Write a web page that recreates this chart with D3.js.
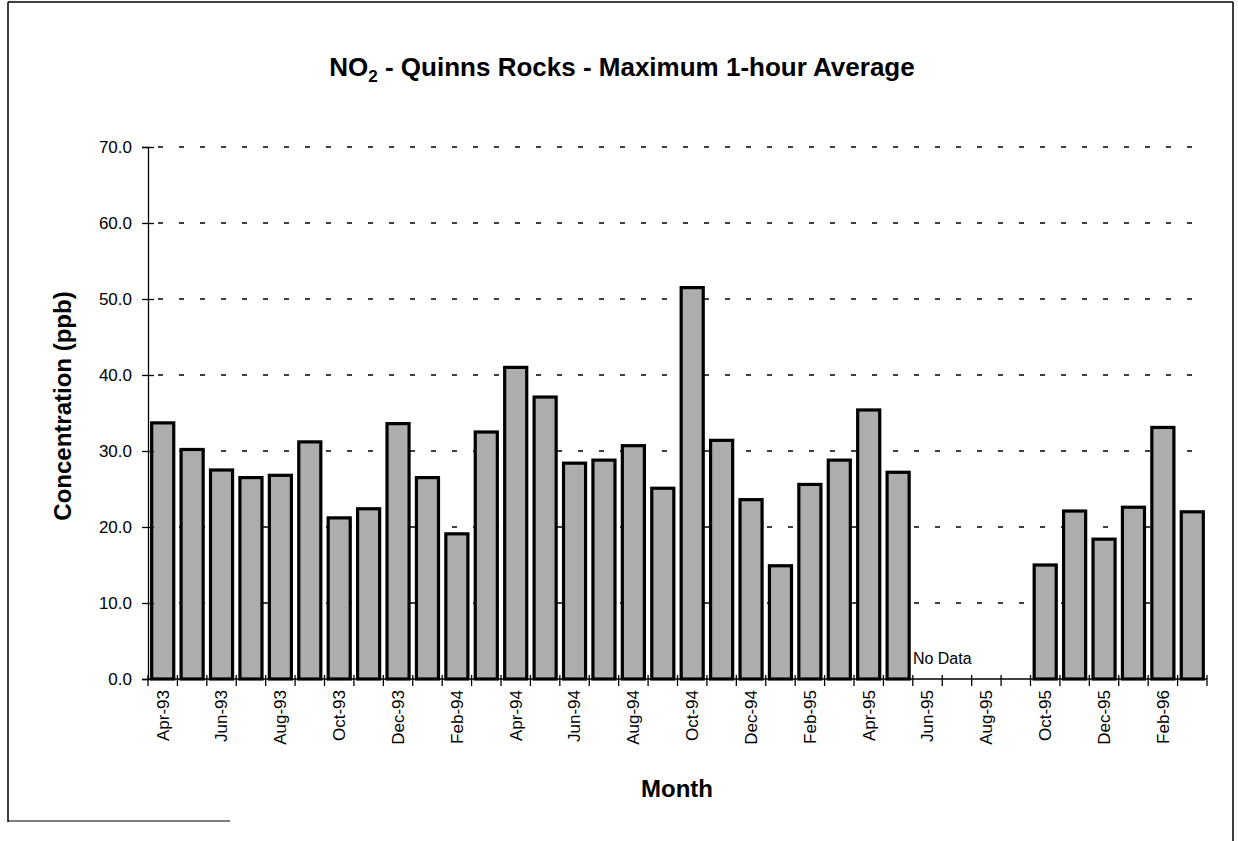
<!DOCTYPE html>
<html>
<head>
<meta charset="utf-8">
<script src="https://cdn.jsdelivr.net/npm/d3@7"></script>
<style>
  html, body { margin: 0; padding: 0; background: #fff; }
  svg { display: block; font-family: "Liberation Sans", Arial, sans-serif; }
</style>
</head>
<body>
<svg id="chart" width="1238" height="841"></svg>
<script>
const months = ["Apr-93","May-93","Jun-93","Jul-93","Aug-93","Sep-93","Oct-93","Nov-93","Dec-93","Jan-94","Feb-94","Mar-94",
  "Apr-94","May-94","Jun-94","Jul-94","Aug-94","Sep-94","Oct-94","Nov-94","Dec-94","Jan-95","Feb-95","Mar-95",
  "Apr-95","May-95","Jun-95","Jul-95","Aug-95","Sep-95","Oct-95","Nov-95","Dec-95","Jan-96","Feb-96","Mar-96"];
const no2Max = [33.7, 30.2, 27.5, 26.5, 26.8, 31.2, 21.2, 22.4, 33.6, 26.5, 19.1, 32.5,
  41.0, 37.1, 28.4, 28.8, 30.7, 25.1, 51.5, 31.4, 23.6, 14.9, 25.6, 28.8,
  35.4, 27.2, null, null, null, null, 15.0, 22.1, 18.4, 22.6, 33.1, 22.0];
const yTicks = [0, 10, 20, 30, 40, 50, 60, 70];
const labelledMonths = months.filter((d, i) => i % 2 === 0);
const noDataLabel = "No Data";
const noDataAt = "Jul-95";

const svg = d3.select("#chart");
const pL = 148, pR = 1207, pT = 147, pB = 679;

// outer frame
svg.append("line").attr("x1", 8).attr("x2", 8).attr("y1", 2).attr("y2", 822).attr("stroke", "#000").attr("stroke-width", 1.5);
svg.append("line").attr("x1", 8).attr("x2", 1233).attr("y1", 2).attr("y2", 2).attr("stroke", "#000").attr("stroke-width", 1.5);
svg.append("line").attr("x1", 1233).attr("x2", 1233).attr("y1", 2).attr("y2", 841).attr("stroke", "#000").attr("stroke-width", 1.5);
svg.append("line").attr("x1", 8).attr("x2", 230).attr("y1", 821).attr("y2", 821).attr("stroke", "#000").attr("stroke-width", 1.2);

const x = d3.scaleBand().domain(months).range([pL, pR]).paddingInner(0.25).paddingOuter(0.125);
const y = d3.scaleLinear().domain([0, 70]).range([pB, pT]);

// gridlines
svg.append("g").selectAll("line").data(yTicks.filter(t => t > 0)).join("line")
  .attr("x1", pL).attr("x2", pR)
  .attr("y1", d => y(d)).attr("y2", d => y(d))
  .attr("stroke", "#000").attr("stroke-width", 1.3)
  .attr("stroke-dasharray", "5,16").attr("stroke-dashoffset", -10);

// bars
const data = months.map((m, i) => ({m, v: no2Max[i]})).filter(d => d.v != null);
svg.append("g").selectAll("rect").data(data).join("rect")
  .attr("x", d => x(d.m))
  .attr("width", x.bandwidth())
  .attr("y", d => y(d.v))
  .attr("height", d => y(0) - y(d.v))
  .attr("fill", "#adadad")
  .attr("stroke", "#000")
  .attr("stroke-width", 3.2);

// y axis
const yAxis = d3.axisLeft(y).tickValues(yTicks).tickFormat(d3.format(".1f")).tickSize(6).tickPadding(10);
const gy = svg.append("g").attr("transform", `translate(${pL},0)`).call(yAxis);
gy.select(".domain").attr("stroke", "#000").attr("stroke-width", 1.3);
gy.selectAll(".tick line").attr("x1", -6).attr("x2", 6).attr("stroke-width", 1.3);
gy.selectAll(".tick text").attr("font-size", 17).attr("fill", "#000").attr("font-family", "Liberation Sans, Arial, sans-serif");

// x axis line and boundary ticks
const step = x.step();
svg.append("line").attr("x1", pL).attr("x2", pR).attr("y1", pB).attr("y2", pB).attr("stroke", "#000").attr("stroke-width", 1.5);
const boundaries = d3.range(months.length + 1).map(i => pL + i * step);
svg.append("g").selectAll("line").data(boundaries).join("line")
  .attr("x1", d => d).attr("x2", d => d)
  .attr("y1", pB - 4).attr("y2", pB + 7)
  .attr("stroke", "#000").attr("stroke-width", 1.3);

// x tick labels (every second month)
const xAxis = d3.axisBottom(x).tickValues(labelledMonths).tickSize(0).tickPadding(0);
const gx = svg.append("g").attr("transform", `translate(0,${pB})`).call(xAxis);
gx.select(".domain").remove();
gx.selectAll(".tick text")
  .attr("font-size", 17).attr("fill", "#000").attr("font-family", "Liberation Sans, Arial, sans-serif")
  .attr("transform", "rotate(-90)")
  .attr("text-anchor", "end")
  .attr("x", -11).attr("y", 0).attr("dy", "0.35em");

// no data label (centred on the Jun-95 / Jul-95 boundary)
svg.append("text").attr("x", x(noDataAt) - (step - x.bandwidth()) / 2).attr("y", 664)
  .attr("text-anchor", "middle").attr("font-size", 16).text(noDataLabel);

// title
const title = svg.append("text").attr("x", 622).attr("y", 76).attr("text-anchor", "middle")
  .attr("font-size", 26).attr("font-weight", "bold");
title.append("tspan").text("NO");
title.append("tspan").attr("font-size", 17).attr("dy", 6).text("2");
title.append("tspan").attr("dy", -6).text(" - Quinns Rocks - Maximum 1-hour Average");

// axis titles
svg.append("text").attr("transform", "translate(71,406) rotate(-90)").attr("text-anchor", "middle")
  .attr("font-size", 24).attr("font-weight", "bold").text("Concentration (ppb)");
svg.append("text").attr("x", 677).attr("y", 797).attr("text-anchor", "middle")
  .attr("font-size", 24).attr("font-weight", "bold").text("Month");
</script>
</body>
</html>
